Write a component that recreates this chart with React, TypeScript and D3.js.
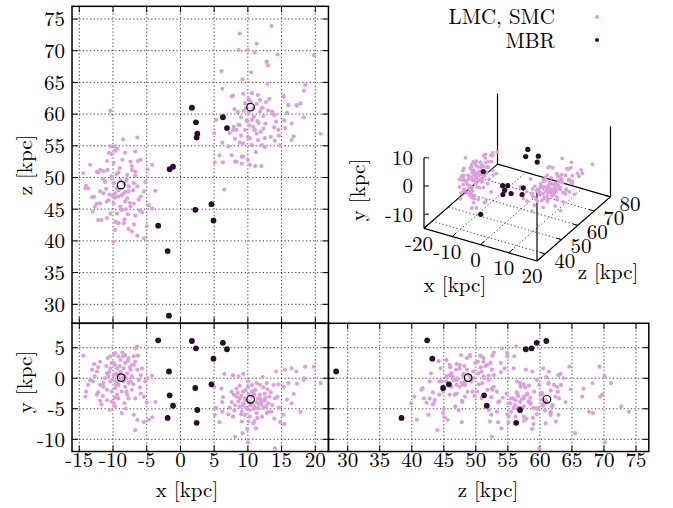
import React from "react";
import * as d3 from "d3";

// ---------- data (kpc) ----------
const lmcX = [-14.4,-14.0,-14.1,-13.0,-12.7,-12.4,-11.9,-12.2,-11.9,-11.7,-10.9,-10.8,-10.4,-9.9,-9.7,-10.2,-9.7,-11.2,-10.7,-10.4,-9.9,-9.4,-11.4,-10.9,-10.2,-9.7,-9.4,-9.2,-9.9,-9.7,-8.7,-8.5,-8.4,-8.2,-7.9,-7.7,-7.4,-7.2,-6.9,-6.7,-6.4,-6.9,-6.4,-6.2,-7.9,-7.2,-6.7,-5.9,-5.4,-5.2,-4.9,-4.2,-6.9,-6.4,-6.7,-5.4,-4.7,-4.2,-3.7,-8.4,-8.9,-9.2,-8.7,-8.2,-7.7,-8.9,-9.4,-10.4,-10.9,-11.9,-12.4,-13.4,-13.7,-10.2,-9.7,-7.7,-8.3,-9.2,-8.7,-8.3,-7.4,-7.2,-6.7,-8.2,-9.2,-9.9,-5.9,-5.7,-12.2,-11.4,-10.6,-9.0,-8.0,-7.5,-10.0,-11.0,-9.5,-8.6,-7.0,-6.0,-12.8,-11.5,-8.1,-10.5,-6.3,-5.0,-9.6,-7.8,-13.1,-8.0];
const lmcY = [3.7,-2.2,-3.0,-0.5,0.3,1.1,2.7,-2.3,-3.7,-4.3,-3.6,3.3,3.6,3.8,4.1,2.5,2.2,0.0,0.3,-0.5,0.5,-0.5,-1.4,-1.9,-2.2,-1.6,-2.7,-3.3,-4.1,-4.6,-5.7,3.6,1.6,2.5,0.8,3.3,-0.5,0.3,3.6,4.9,5.2,2.2,1.4,-0.3,-2.7,-1.9,-3.3,-2.5,-3.0,-0.5,0.0,0.4,-6.0,-6.8,-8.5,-7.2,-6.8,-6.4,-3.9,-0.5,1.1,-1.1,-2.2,-1.4,-0.8,3.0,1.6,1.6,0.8,-1.1,-2.7,-0.3,-1.1,-3.8,-3.2,-3.3,-4.1,0.5,0.0,0.4,1.4,2.2,2.7,3.8,3.6,2.5,0.5,1.6,1.8,-0.8,1.0,2.0,-2.2,1.8,-0.3,2.0,-1.0,4.2,-1.0,-1.5,2.3,-2.9,-5.0,-5.2,3.7,-4.0,0.8,2.8,1.4,0.0];
const lmcZ = [50.7,48.7,48.3,44.6,45.4,50.9,51.2,43.3,47.8,43.3,43.6,51.2,54.9,49.1,54.9,49.9,47.5,49.3,46.4,44.3,45.9,48.3,47.5,52.6,50.2,41.7,44.3,42.8,39.9,46.8,44.9,56.0,47.5,53.9,50.4,48.6,45.4,51.2,49.1,54.1,56.3,45.9,48.6,46.5,46.7,41.5,50.9,47.0,40.4,49.3,51.3,52.0,42.6,40.8,44.0,47.8,45.6,45.1,47.9,42.8,49.6,47.0,44.9,46.2,47.8,45.4,54.5,60.5,46.2,45.9,45.9,52.0,48.3,53.7,54.2,41.9,43.4,48.0,47.2,49.0,52.5,51.8,50.3,47.7,50.8,52.3,52.8,44.5,50.8,51.0,53.9,51.5,49.5,46.0,47.0,48.2,50.5,52.8,48.0,44.8,47.0,49.8,45.0,47.3,52.6,42.3,43.0,44.2,46.9,49.8];

const smcX = [5.0,6.1,6.2,5.3,6.2,5.8,6.5,7.8,8.6,9.3,8.1,9.2,10.0,14.0,7.9,8.3,8.6,8.1,8.8,9.1,9.6,10.1,11.0,10.3,9.8,9.3,10.1,10.0,10.6,11.3,11.8,12.8,13.8,11.5,12.0,12.5,13.0,13.6,14.0,14.4,11.0,11.5,12.3,12.8,13.5,14.8,15.4,15.3,16.5,17.8,16.0,16.5,17.2,17.3,15.5,14.2,14.5,15.3,18.5,18.3,19.8,20.8,18.3,7.6,8.3,8.8,9.3,10.6,11.0,10.6,10.3,9.6,8.8,11.3,12.1,10.8,9.1,7.8,7.1,7.6,13.4,12.5,13.0,12.0,11.3,11.8,10.5,11.1,9.6,12.3,5.1,6.3,10.2,11.6,9.0,12.6,10.9,9.4,9.7,10.8,11.9,12.7,10.4,9.0,11.4,13.2,14.6,8.5,10.0,12.9,7.3,16.8,15.8,11.2,9.9,13.9,12.2,8.0];
const smcY = [-1.4,-1.7,-3.9,-4.9,-5.5,-7.2,0.7,0.5,0.3,0.7,-9.6,-9.0,-10.5,-11.5,-2.7,-3.0,-3.8,-4.4,-4.6,-5.5,-6.0,-7.1,-7.0,-6.3,-4.9,-4.1,-2.7,-1.4,-1.1,-0.8,-1.1,-0.8,-1.1,-3.3,-3.8,-3.6,-4.1,-4.4,-3.3,-3.0,-4.6,-4.9,-4.9,-5.7,-5.5,-7.2,-7.5,-6.0,-4.1,-5.5,-0.8,1.6,1.1,-0.9,1.4,1.1,-1.0,-1.4,1.9,0.0,1.9,-0.8,-0.3,-3.9,-1.7,-1.2,-2.2,-2.2,-2.7,-4.1,-5.2,-3.3,-3.3,-5.7,-6.3,-7.4,-7.1,-6.3,-5.9,-2.2,-2.3,-2.5,-5.5,-4.4,-3.9,-2.7,-3.0,-1.9,-2.0,-1.5,-6.0,-3.1,-3.9,-4.2,-2.9,-3.2,-5.0,-4.5,-3.6,-2.5,-3.4,-4.6,-4.4,-5.9,-6.5,-3.0,-4.8,-2.4,-0.5,-1.8,-4.8,-2.6,-3.5,-8.2,-8.3,-6.6,0.2,-5.3];
const smcZ = [57.0,66.8,64.0,59.1,55.5,53.5,48.1,62.9,70.1,63.2,52.5,65.5,70.1,59.9,58.0,57.5,58.3,56.1,72.7,53.3,61.7,62.5,57.5,56.2,59.0,55.4,60.1,52.8,63.3,71.1,62.2,68.2,59.9,63.0,60.9,56.2,60.6,60.4,55.8,69.4,57.5,55.9,59.7,68.3,73.9,55.1,59.0,62.9,58.5,61.7,61.4,55.9,61.4,61.3,57.8,58.8,57.5,62.7,64.6,63.7,69.3,56.9,59.5,53.5,52.5,58.3,53.3,59.1,69.7,55.1,52.0,57.5,55.5,61.6,55.1,60.9,52.2,57.5,54.9,62.8,56.4,54.8,67.7,51.8,56.9,60.4,66.6,51.8,61.7,57.7,52.4,52.4,58.2,58.6,56.6,58.5,59.6,60.5,60.9,58.0,57.2,61.9,62.0,59.5,58.9,62.4,56.6,60.3,56.4,64.8,57.0,56.5,60.2,54.0,58.8,57.9,61.0,60.8];

const mbrX = [1.7,2.3,2.5,2.4,6.3,6.9,-1.6,-1.1,-3.3,-1.9,-1.7,2.2,4.6,4.9];
const mbrY = [6.1,4.9,-5.2,-7.3,5.8,4.75,-2.8,-4.5,6.2,-6.5,1.1,-1.6,-1.0,3.2];
const mbrZ = [61.0,58.7,56.9,56.3,59.5,57.8,51.3,51.7,42.4,38.4,28.2,44.9,45.8,43.2];

const centerX = [-8.8, 10.4];
const centerY = [0.1, -3.45];
const centerZ = [48.8, 61.1];

const xTicks = [-15,-10,-5,0,5,10,15,20];
const zTicks = [30,35,40,45,50,55,60,65,70,75];
const yTicks = [-10,-5,0,5];
const x3Ticks = [-20,-10,0,10,20];
const y3Ticks = [-10,0,10];
const z3Ticks = [40,50,60,70,80];

const FONT = "'Latin Modern Roman', 'Liberation Serif', serif";
const FS = 21;
const PINK = "#dda0dd";
const DARK = "#2e0a30";
const RP = 2.1;
const RD = 2.9;

type P = { x: number; y: number; z: number };
const zip = (xs: number[], ys: number[], zs: number[]): P[] => xs.map((x, i) => ({ x, y: ys[i], z: zs[i] }));

const grid = { stroke: "#222", strokeWidth: 0.9, strokeDasharray: "1.2,2.4" };

function Panel({ x0, x1, y0, y1, vx, vy, sx, sy }: any) {
  const T = 6;
  return (
    <g>
      {vx.map((v: number) => (
        <line key={"gx" + v} x1={sx(v)} x2={sx(v)} y1={y0} y2={y1} {...grid} />
      ))}
      {vy.map((v: number) => (
        <line key={"gy" + v} x1={x0} x2={x1} y1={sy(v)} y2={sy(v)} {...grid} />
      ))}
      {vx.map((v: number) => (
        <g key={"tx" + v}>
          <line x1={sx(v)} x2={sx(v)} y1={y1} y2={y1 - T} stroke="#000" strokeWidth={1} />
          <line x1={sx(v)} x2={sx(v)} y1={y0} y2={y0 + T} stroke="#000" strokeWidth={1} />
        </g>
      ))}
      {vy.map((v: number) => (
        <g key={"ty" + v}>
          <line x1={x0} x2={x0 + T} y1={sy(v)} y2={sy(v)} stroke="#000" strokeWidth={1} />
          <line x1={x1} x2={x1 - T} y1={sy(v)} y2={sy(v)} stroke="#000" strokeWidth={1} />
        </g>
      ))}
    </g>
  );
}

export default function App() {
  const lmc = zip(lmcX, lmcY, lmcZ);
  const smc = zip(smcX, smcY, smcZ);
  const clouds = lmc.concat(smc);
  const mbr = zip(mbrX, mbrY, mbrZ);
  const centers = zip(centerX, centerY, centerZ);

  const xS = d3.scaleLinear().domain([-15, 20]).range([79.3, 315.3]);
  const zT = d3.scaleLinear().domain([30, 75]).range([304.3, 19]);
  const yB = d3.scaleLinear().domain([-10, 5]).range([439.3, 347.7]);
  const zB = d3.scaleLinear().domain([30, 75]).range([347.7, 636]);

  const L = xS(-16.08), R1 = xS(21.95);
  const T1 = zT(77), B1 = zT(27);
  const T2 = yB(9), B2 = yB(-12);
  const L3 = zB(27), R3 = zB(77);

  // 3D projection (gnuplot-like view), base plane at y = -15
  const tx = d3.scaleLinear().domain([-20, 20]).range([0, 1]);
  const tz = d3.scaleLinear().domain([35, 80]).range([0, 1]);
  const ty = d3.scaleLinear().domain([-15, 10]).range([0, 1]);
  const O = [424, 228.3];
  const ex = [113, 32.7], ez = [73.5, -64.2], ey = [0, -70.5];
  const p3 = (x: number, y: number, z: number): [number, number] => {
    const a = tx(x), b = tz(z), c = ty(y);
    return [O[0] + a * ex[0] + b * ez[0] + c * ey[0], O[1] + a * ex[1] + b * ez[1] + c * ey[1]];
  };
  const seg = (a: [number, number], b: [number, number], key: string, props: any) => (
    <line key={key} x1={a[0]} y1={a[1]} x2={b[0]} y2={b[1]} {...props} />
  );
  const solid = { stroke: "#000", strokeWidth: 1.2 };
  const inRange = (p: P) => p.z >= 35 && p.z <= 80 && p.x >= -20 && p.x <= 20 && p.y >= -15 && p.y <= 10;

  const txt = { fontFamily: FONT, fontSize: FS, fill: "#000" };

  return (
    <svg width={673} height={508} style={{ position: "absolute", left: 0, top: 0, background: "#fff" }}>
      <rect x={0} y={0} width={673} height={508} fill="#fff" />

      {/* ---- top-left: x vs z ---- */}
      <Panel x0={L} x1={R1} y0={T1} y1={B1} vx={xTicks} vy={zTicks} sx={xS} sy={zT} />
      {clouds.map((p, i) => <circle key={"a" + i} cx={xS(p.x)} cy={zT(p.z)} r={RP} fill={PINK} />)}
      {mbr.map((p, i) => <circle key={"am" + i} cx={xS(p.x)} cy={zT(p.z)} r={RD} fill={DARK} />)}
      {centers.map((p, i) => <circle key={"ac" + i} cx={xS(p.x)} cy={zT(p.z)} r={3.8} fill="none" stroke="#000" strokeWidth={1.2} />)}
      <rect x={L} y={T1} width={R1 - L} height={B1 - T1} fill="none" stroke="#000" strokeWidth={1.5} />
      {zTicks.map((v) => (
        <text key={"lz" + v} x={65} y={zT(v)} dy="0.35em" textAnchor="end" {...txt}>{v}</text>
      ))}
      <text transform={`translate(25,165) rotate(-90)`} textAnchor="middle" dy="0.35em" {...txt}>z [kpc]</text>

      {/* ---- bottom-left: x vs y ---- */}
      <Panel x0={L} x1={R1} y0={T2} y1={B2} vx={xTicks} vy={yTicks} sx={xS} sy={yB} />
      {clouds.map((p, i) => <circle key={"b" + i} cx={xS(p.x)} cy={yB(p.y)} r={RP} fill={PINK} />)}
      {mbr.map((p, i) => <circle key={"bm" + i} cx={xS(p.x)} cy={yB(p.y)} r={RD} fill={DARK} />)}
      {centers.map((p, i) => <circle key={"bc" + i} cx={xS(p.x)} cy={yB(p.y)} r={3.8} fill="none" stroke="#000" strokeWidth={1.2} />)}
      <rect x={L} y={T2} width={R1 - L} height={B2 - T2} fill="none" stroke="#000" strokeWidth={1.5} />
      {yTicks.map((v) => (
        <text key={"ly" + v} x={65} y={yB(v)} dy="0.35em" textAnchor="end" {...txt}>{v}</text>
      ))}
      {xTicks.map((v) => (
        <text key={"lx" + v} x={xS(v)} y={466.5} textAnchor="middle" {...txt}>{v}</text>
      ))}
      <text transform={`translate(25,382) rotate(-90)`} textAnchor="middle" dy="0.35em" {...txt}>y [kpc]</text>
      <text x={187} y={497} textAnchor="middle" {...txt}>x [kpc]</text>

      {/* ---- bottom-right: z vs y ---- */}
      <Panel x0={L3} x1={R3} y0={T2} y1={B2} vx={zTicks} vy={yTicks} sx={zB} sy={yB} />
      {clouds.map((p, i) => <circle key={"c" + i} cx={zB(p.z)} cy={yB(p.y)} r={RP} fill={PINK} />)}
      {mbr.map((p, i) => <circle key={"cm" + i} cx={zB(p.z)} cy={yB(p.y)} r={RD} fill={DARK} />)}
      {centers.map((p, i) => <circle key={"cc" + i} cx={zB(p.z)} cy={yB(p.y)} r={3.8} fill="none" stroke="#000" strokeWidth={1.2} />)}
      <rect x={L3} y={T2} width={R3 - L3} height={B2 - T2} fill="none" stroke="#000" strokeWidth={1.5} />
      {zTicks.map((v) => (
        <text key={"lz2" + v} x={zB(v)} y={466.5} textAnchor="middle" {...txt}>{v}</text>
      ))}
      <text x={488} y={497} textAnchor="middle" {...txt}>z [kpc]</text>

      {/* ---- 3D inset ---- */}
      <g>
        {[-10, 0, 10].map((v) => seg(p3(v, -15, 35), p3(v, -15, 80), "g3x" + v, grid))}
        {[40, 50, 60, 70].map((v) => seg(p3(-20, -15, v), p3(20, -15, v), "g3z" + v, grid))}
        {seg(p3(-20, -15, 35), p3(20, -15, 35), "e1", solid)}
        {seg(p3(20, -15, 35), p3(20, -15, 80), "e2", solid)}
        {seg(p3(20, -15, 80), p3(-20, -15, 80), "e3", solid)}
        {seg(p3(-20, -15, 80), p3(-20, -15, 35), "e4", solid)}
        {seg(p3(-20, -15, 35), p3(-20, 10, 35), "v1", solid)}
        {seg(p3(-20, -15, 80), p3(-20, 10, 80), "v2", solid)}
        {seg(p3(20, -15, 80), p3(20, 10, 80), "v3", solid)}
        {seg(p3(20, -15, 35), p3(20, 10, 35), "v4", solid)}
        {y3Ticks.map((v) => {
          const a = p3(-20, v, 35);
          return <line key={"t3y" + v} x1={a[0]} x2={a[0] + 5} y1={a[1]} y2={a[1]} stroke="#000" strokeWidth={1} />;
        })}
        {x3Ticks.map((v) => seg(p3(v, -15, 35), p3(v, -15, 37.5), "t3x" + v, { stroke: "#000", strokeWidth: 1 }))}
        {z3Ticks.map((v) => seg(p3(20, -15, v), p3(18.2, -15, v), "t3z" + v, { stroke: "#000", strokeWidth: 1 }))}
        {clouds.filter(inRange).map((p, i) => {
          const q = p3(p.x, p.y, p.z);
          return <circle key={"d" + i} cx={q[0]} cy={q[1]} r={1.9} fill={PINK} />;
        })}
        {mbr.filter(inRange).map((p, i) => {
          const q = p3(p.x, p.y, p.z);
          return <circle key={"dm" + i} cx={q[0]} cy={q[1]} r={2.6} fill={DARK} />;
        })}
        {y3Ticks.map((v) => {
          const a = p3(-20, v, 35);
          return <text key={"l3y" + v} x={413} y={a[1]} dy="0.35em" textAnchor="end" {...txt}>{v}</text>;
        })}
        {x3Ticks.map((v) => {
          const a = p3(v, -15, 35);
          return <text key={"l3x" + v} x={a[0] - 5} y={a[1] + 15} dy="0.35em" textAnchor="middle" {...txt}>{v}</text>;
        })}
        {z3Ticks.map((v) => {
          const a = p3(20, -15, v);
          return <text key={"l3z" + v} x={a[0] + 19.5} y={a[1] + 6.5} dy="0.35em" textAnchor="middle" {...txt}>{v}</text>;
        })}
        <text transform={`translate(358,190) rotate(-90)`} textAnchor="middle" dy="0.35em" {...txt}>y [kpc]</text>
        <text x={455} y={292} textAnchor="middle" {...txt}>x [kpc]</text>
        <text x={608} y={278.5} textAnchor="middle" {...txt}>z [kpc]</text>
      </g>

      {/* ---- legend ---- */}
      <text x={555} y={17} dy="0.35em" textAnchor="end" {...txt}>LMC, SMC</text>
      <circle cx={597} cy={17} r={2.1} fill={PINK} />
      <text x={555} y={41} dy="0.35em" textAnchor="end" {...txt}>MBR</text>
      <circle cx={597} cy={40} r={2.1} fill={DARK} />
    </svg>
  );
}
